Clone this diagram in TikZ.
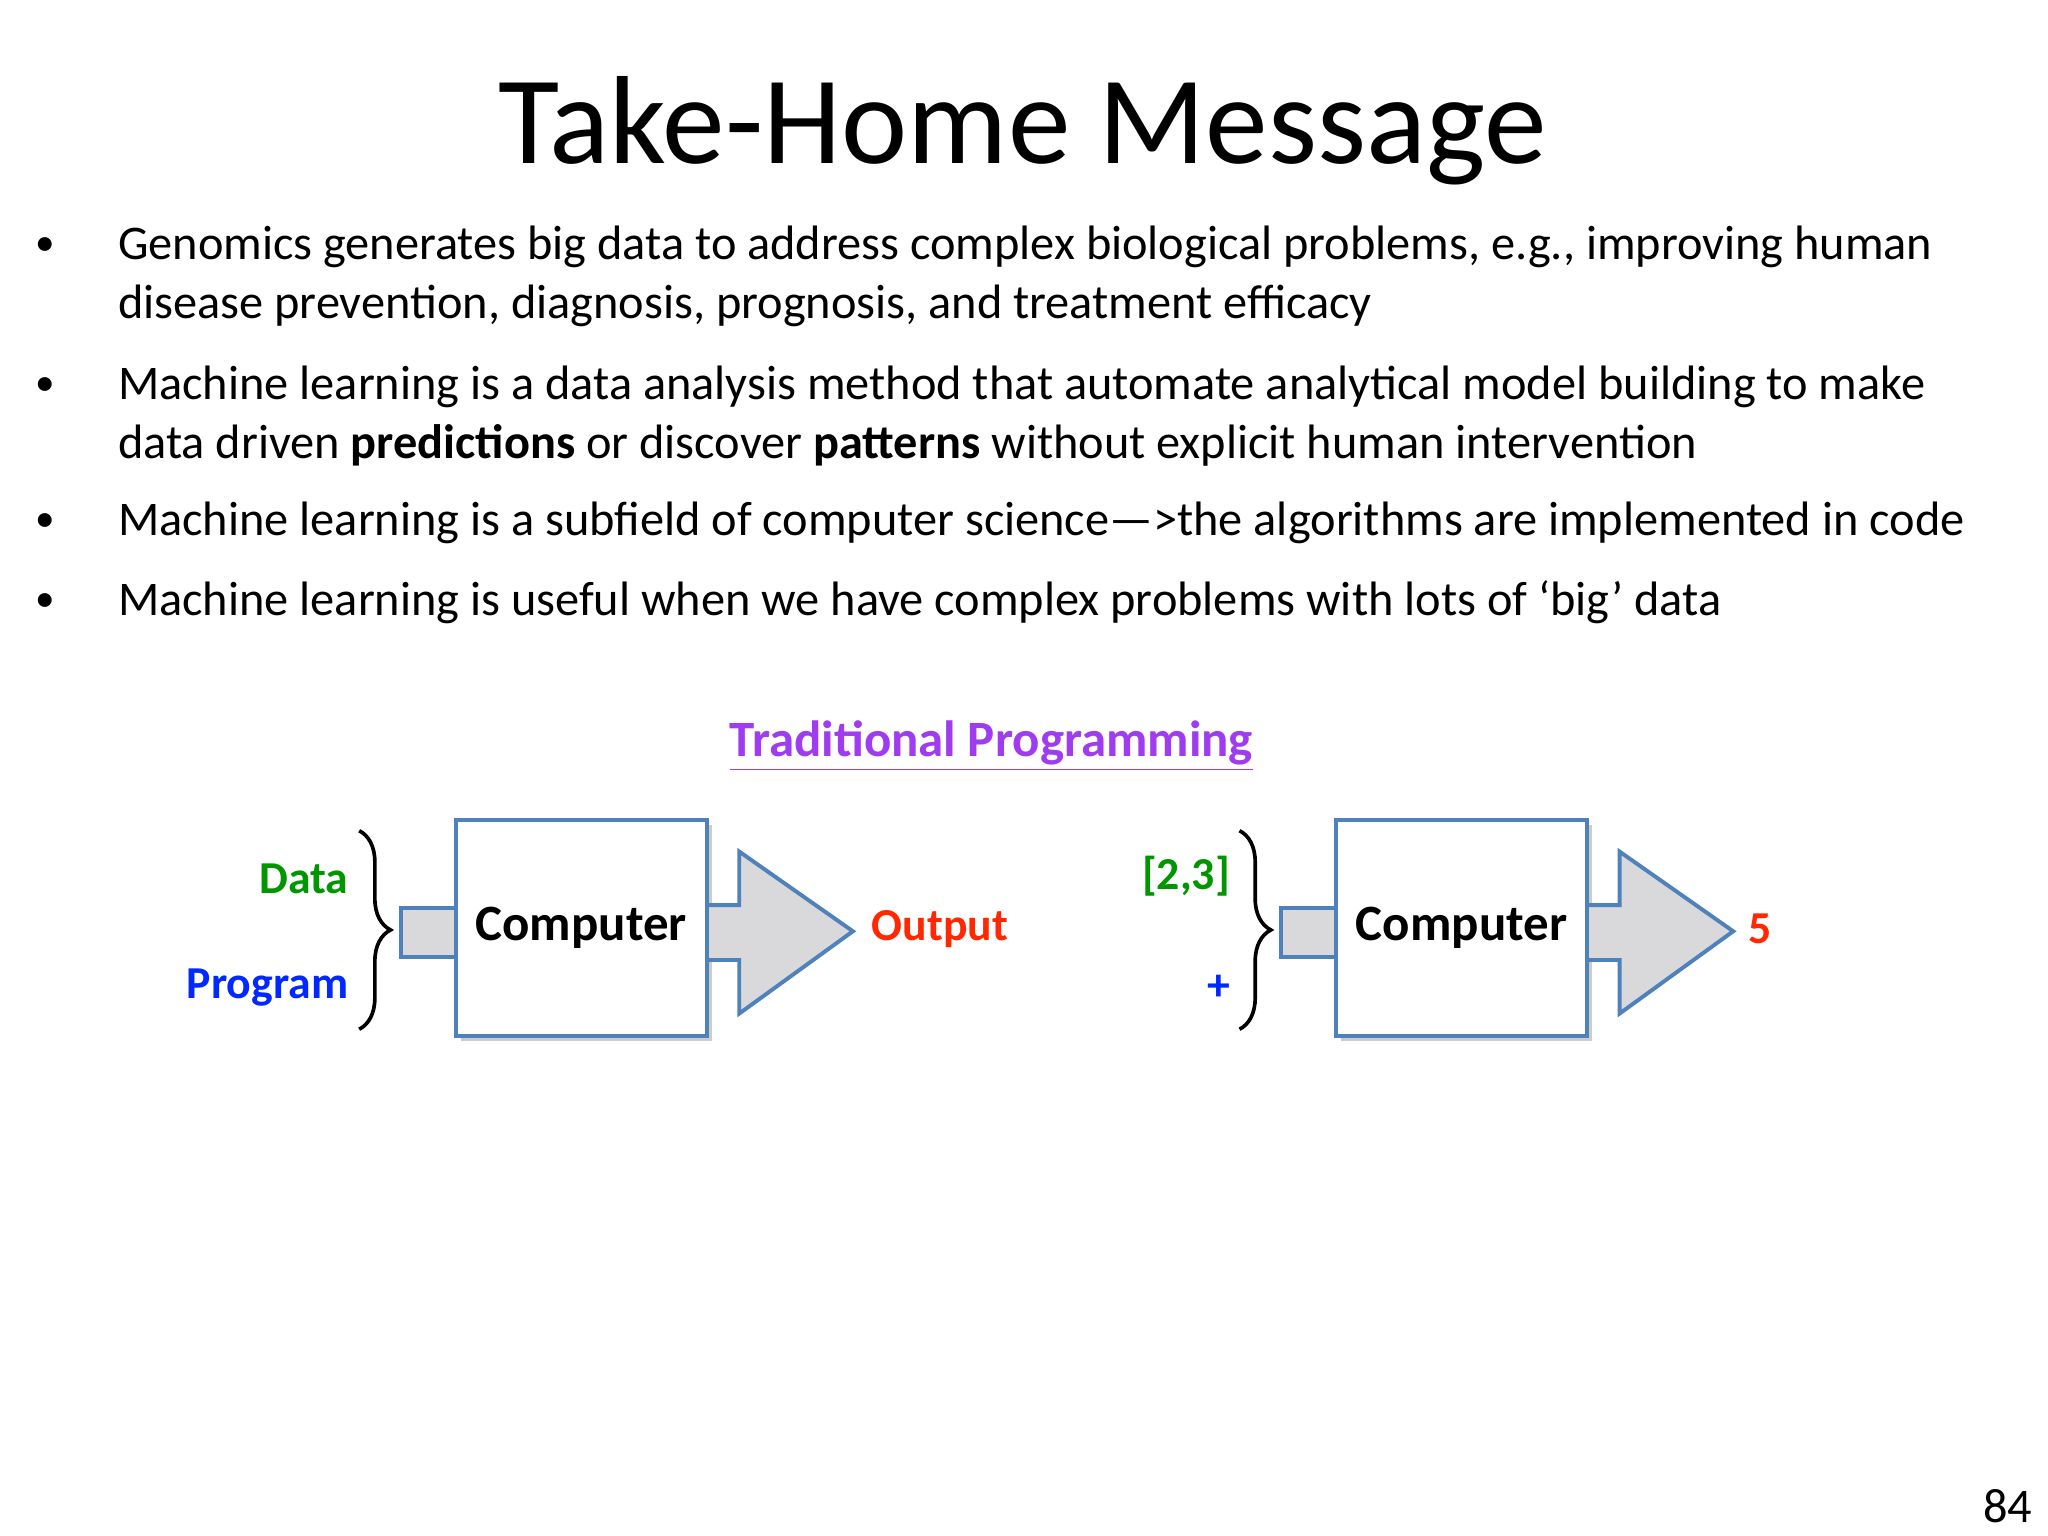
\documentclass[tikz,border=0pt]{standalone}
\usepackage{fontspec}
\setmainfont{Carlito}
\usetikzlibrary{decorations.pathreplacing}
\definecolor{bl}{RGB}{79,129,189}
\definecolor{gf}{RGB}{217,217,220}
\definecolor{grn}{RGB}{0,150,0}
\definecolor{blu}{RGB}{0,40,255}
\definecolor{red}{RGB}{255,40,0}
\definecolor{pur}{RGB}{160,60,240}
\tikzset{
 body/.style={anchor=west,inner sep=0pt,font=\fontsize{18.5}{22}\selectfont},
 bul/.style={inner sep=0pt,font=\fontsize{15}{20}\selectfont},
 comp/.style={draw=bl,line width=1.5pt,fill=white},
 stub/.style={draw=bl,line width=1.5pt,fill=gf},
 lab/.style={inner sep=0pt,font=\fontsize{17.5}{20}\selectfont\bfseries},
 br/.style={decorate,decoration={brace,amplitude=12pt},line width=1.4pt}
}
\begin{document}
\begin{tikzpicture}[x=0.5pt,y=-0.5pt]
\useasboundingbox (0,0) rectangle (1568,1176);
\node[inner sep=0pt,font=\fontsize{48}{52}\selectfont] (title) at (783,100) {Take-Home Message};
\foreach \y/\n in {189/b1,296/b2,400/b3,461/b4}{\node[bul] (\n) at (35,\y) {•};}
\node[body] (t1) at (90,189) {Genomics generates big data to address complex biological problems, e.g., improving human};
\node[body] (t1b) at (90,234) {disease prevention, diagnosis, prognosis, and treatment efficacy};
\node[body] (t2) at (90,296) {Machine learning is a data analysis method that automate analytical model building to make};
\node[body] (t2b) at (90,341) {data driven \textbf{predictions} or discover \textbf{patterns} without explicit human intervention};
\node[body] (t3) at (90,400) {Machine learning is a subfield of computer science—>the algorithms are implemented in code};
\node[body] (t4) at (90,461) {Machine learning is useful when we have complex problems with lots of ‘big’ data};
\node[inner sep=0pt,text=pur,font=\fontsize{19.5}{22}\selectfont\bfseries] (tp) at (759,571) {\underline{Traditional Programming}};
\foreach \dx/\i in {0/L,674/R}{
 \begin{scope}[xshift=\dx*0.5pt]
 \fill[black!20] (353,632) rectangle (545,797);
 \draw[stub] (307,695) rectangle (349,733);
 \draw[stub] (541,693) -- (566,693) -- (566,652) -- (653,713) -- (566,776) -- (566,735) -- (541,735);
 \node[comp,minimum width=96pt,minimum height=82.5pt,inner sep=0pt,font=\fontsize{19.5}{22}\selectfont\bfseries] (box\i) at (445,710.5) {Computer};
 \coordinate (bt\i) at (275,636); \coordinate (bb\i) at (275,788);
 \draw[br] (bt\i) -- (bb\i);
 \end{scope}}
\node[lab,text=grn,anchor=east] (dL) at (267,673) {Data};
\node[lab,text=blu,anchor=east] (pL) at (267,756) {Program};
\node[lab,text=red,anchor=west] (oL) at (667,711) {Output};
\node[lab,text=grn,anchor=east] (dR) at (942,671) {[2,3]};
\node[lab,text=blu,anchor=east] (pR) at (942,756) {+};
\node[lab,text=red,anchor=west] (oR) at (1338,711) {5};
\node[inner sep=0pt,font=\fontsize{18.5}{20}\selectfont] (pg) at (1537,1153) {84};
\end{tikzpicture}
\end{document}
